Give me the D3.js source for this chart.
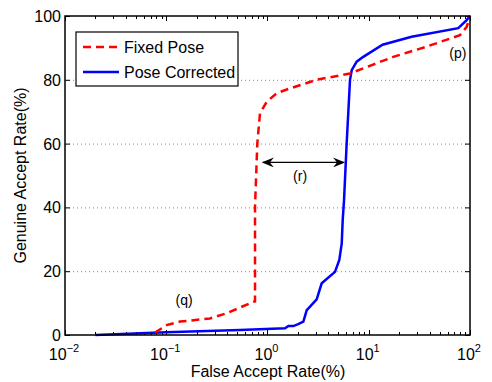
<!DOCTYPE html>
<html lang="en">
<head>
  <meta charset="UTF-8">
  <title>roc</title>
  <script src="https://cdn.jsdelivr.net/npm/d3@7"></script>
  <style>
    * { padding: 0; margin: 0; }
    html, body { background: #fff; overflow: hidden; }
    text { font-family: "Liberation Sans", Arial, sans-serif; fill: #000; }
  </style>
</head>
<body>
  <div id="chart"></div>
  <script>
    // far (%) and gar (%)
    const fixedFar = [0.0775, 0.101, 0.137, 0.27, 0.395, 0.724, 0.753, 0.753, 0.793, 0.843, 0.982, 1.233, 1.667, 3.06, 6.53, 17.5, 37.3, 79.6, 92.7, 100]
    const fixedGar = [0.8, 3.1, 4.2, 5.2, 6.8, 10.4, 10.5, 40.2, 60, 69.5, 73.1, 75.8, 77.3, 80, 82, 87.2, 90.4, 94, 96.6, 100]

    const corrFar = [0.02, 0.1, 0.535, 1.49, 1.61, 1.8, 2.01, 2.26, 2.44, 2.63, 3.06, 3.43, 4.64, 5.12, 5.41, 5.53, 5.7, 6.05, 6.53, 6.79, 7.6, 8.83, 13.7, 26.5, 76.6, 92.7, 100]
    const corrGar = [0, 0.85, 1.57, 2.1, 2.8, 2.8, 3.4, 4.2, 7.8, 8.9, 11.2, 16.2, 19.8, 23.5, 28.7, 36, 42.3, 60, 80, 83, 85.7, 87.2, 91, 93.5, 96.2, 98.7, 100]

    const xExp = [-2, -1, 0, 1, 2]
    const yTicks = [0, 20, 40, 60, 80, 100]
    const legendNames = ['Fixed Pose', 'Pose Corrected']

    const W = 492, H = 382
    const m = { left: 65, right: 470, top: 16, bottom: 335 }

    const x = d3.scaleLog().domain([0.01, 100]).range([m.left, m.right])
    const y = d3.scaleLinear().domain([0, 100]).range([m.bottom, m.top])

    const svg = d3.select('#chart').append('svg').attr('width', W).attr('height', H)

    // dotted grid, y only
    svg.append('g').selectAll('line').data(yTicks.filter(d => d > 0 && d < 100)).join('line')
      .attr('x1', m.left).attr('x2', m.right)
      .attr('y1', d => y(d) + 0.5).attr('y2', d => y(d) + 0.5)
      .attr('stroke', '#888').attr('stroke-width', 1).attr('stroke-dasharray', '1,3')

    // x ticks, minor and major, on bottom and top, pointing in
    const ticks = svg.append('g').attr('stroke', '#000').attr('stroke-width', 1)
    x.ticks().forEach(v => {
      const major = Math.abs(Math.log10(v) - Math.round(Math.log10(v))) < 1e-9
      const len = major ? 5 : 3
      const px = Math.round(x(v)) + 0.5
      ticks.append('line').attr('x1', px).attr('x2', px).attr('y1', m.bottom).attr('y2', m.bottom - len)
      ticks.append('line').attr('x1', px).attr('x2', px).attr('y1', m.top).attr('y2', m.top + len)
    })
    yTicks.forEach(v => {
      const py = y(v) + 0.5
      ticks.append('line').attr('x1', m.left).attr('x2', m.left + 5).attr('y1', py).attr('y2', py)
      ticks.append('line').attr('x1', m.right).attr('x2', m.right - 5).attr('y1', py).attr('y2', py)
    })

    // tick labels
    const xl = svg.append('g').selectAll('text').data(xExp).join('text')
      .attr('x', d => x(Math.pow(10, d)) - 1).attr('y', 360)
      .attr('text-anchor', 'middle').style('font-size', '16px')
    xl.append('tspan').text('10')
    xl.append('tspan').attr('dy', -8).style('font-size', '11px').text(d => d < 0 ? '\u2212' + (-d) : d)

    svg.append('g').selectAll('text').data(yTicks).join('text')
      .attr('x', m.left - 4).attr('y', d => y(d) + 6)
      .attr('text-anchor', 'end').style('font-size', '16px').text(d => d)

    // axis titles
    svg.append('text').attr('x', (m.left + m.right) / 2 + 0.5).attr('y', 377)
      .attr('text-anchor', 'middle').style('font-size', '16px').text('False Accept Rate(%)')
    svg.append('text').attr('transform', `translate(26, ${(m.top + m.bottom) / 2}) rotate(-90)`)
      .attr('text-anchor', 'middle').style('font-size', '16px').text('Genuine Accept Rate(%)')

    // curves
    const line = d3.line().x(d => x(d[0])).y(d => y(d[1]))
    svg.append('path').datum(d3.zip(corrFar, corrGar))
      .attr('d', line).attr('fill', 'none').attr('stroke', '#0000ff').attr('stroke-width', 2.5)
    svg.append('path').datum(d3.zip(fixedFar, fixedGar))
      .attr('d', line).attr('fill', 'none').attr('stroke', '#ff0000').attr('stroke-width', 2.5)
      .attr('stroke-dasharray', '8,5')

    // frame
    svg.append('rect').attr('x', m.left).attr('y', m.top).attr('width', m.right - m.left).attr('height', m.bottom - m.top)
      .attr('fill', 'none').attr('stroke', '#000').attr('stroke-width', 1.5)

    // double arrow between the curves
    const defs = svg.append('defs')
    defs.append('marker').attr('id', 'head').attr('viewBox', '0 0 12 10').attr('refX', 11).attr('refY', 5)
      .attr('markerWidth', 12).attr('markerHeight', 10).attr('markerUnits', 'userSpaceOnUse')
      .attr('orient', 'auto-start-reverse')
      .append('path').attr('d', 'M0,0 L12,5 L0,10 L4,5 Z').attr('fill', '#000')
    svg.append('line')
      .attr('x1', x(0.9)).attr('x2', x(5.7)).attr('y1', y(54.1)).attr('y2', y(54.1))
      .attr('stroke', '#000').attr('stroke-width', 1.2)
      .attr('marker-start', 'url(#head)').attr('marker-end', 'url(#head)')

    // annotations
    const notes = [['(q)', 0.15, 11], ['(r)', 2.1, 50], ['(p)', 76, 88.5]]
    svg.append('g').selectAll('text').data(notes).join('text')
      .attr('x', d => x(d[1])).attr('y', d => y(d[2]) + 5)
      .attr('text-anchor', 'middle').style('font-size', '14px').text(d => d[0])

    // legend
    const lg = svg.append('g').attr('transform', 'translate(76, 32)')
    lg.append('rect').attr('width', 162).attr('height', 54).attr('fill', '#fff')
      .attr('stroke', '#000').attr('stroke-width', 1.2)
    const items = lg.selectAll('g').data(legendNames).join('g')
      .attr('transform', (d, i) => `translate(0, ${15 + i * 25})`)
    items.append('line').attr('x1', 7).attr('x2', 43).attr('y1', 0).attr('y2', 0)
      .attr('stroke', (d, i) => i === 0 ? '#ff0000' : '#0000ff').attr('stroke-width', 2.5)
      .attr('stroke-dasharray', (d, i) => i === 0 ? '8,5' : null)
    items.append('text').attr('x', 48).attr('y', 6).style('font-size', '16px').text(d => d)
  </script>
</body>
</html>
